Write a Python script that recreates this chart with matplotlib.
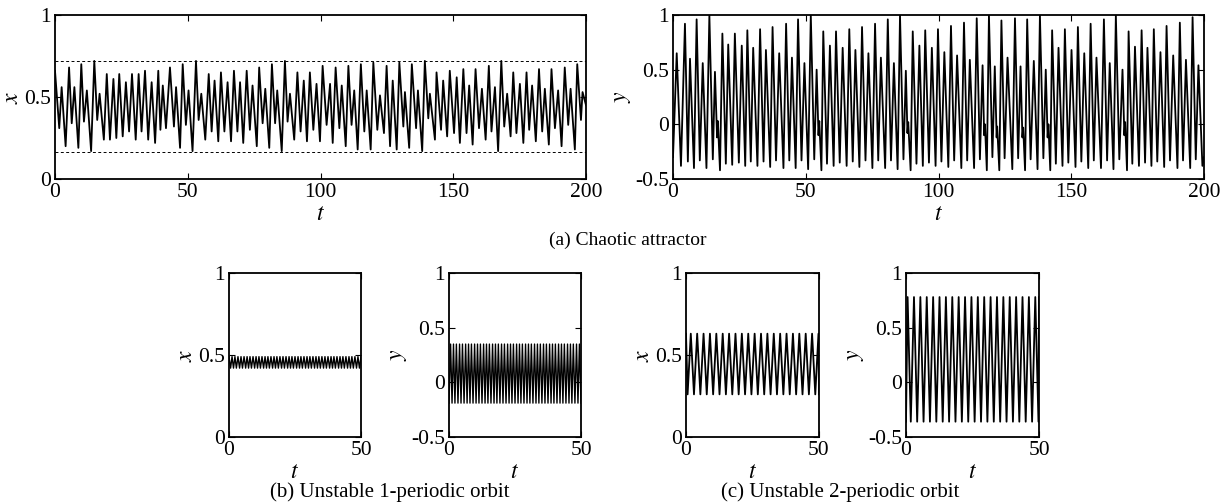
import matplotlib
matplotlib.use("Agg")
import matplotlib.pyplot as plt

plt.rcParams["font.family"] = "Liberation Serif"
plt.rcParams["mathtext.fontset"] = "stix"

# ---- (a) chaotic attractor: local extrema ----
xa_t = [0.0, 1.6, 2.5, 4.0, 5.3, 6.3, 7.3, 8.8, 9.9, 10.9, 12.0, 13.6, 14.8, 15.9, 16.8,
        18.4, 19.5, 20.7, 22.0, 23.1, 24.2, 25.5, 26.7, 27.9, 29.0, 30.4, 31.5, 32.6, 33.9,
        35.1, 36.4, 37.7, 38.9, 39.7, 40.6, 41.8, 43.3, 44.8, 45.6, 47.1, 48.1, 49.3, 50.3,
        51.8, 53.1, 54.1, 55.1, 56.6, 57.9, 59.0, 60.1, 61.5, 62.5, 63.8, 65.0, 66.3, 67.4,
        68.7, 69.7, 70.9, 72.2, 73.4, 74.4, 76.0, 76.9, 78.2, 79.2, 80.7, 81.7, 82.9, 83.7,
        85.4, 86.6, 87.6, 88.5, 90.1, 91.3, 92.5, 93.7, 94.9, 96.0, 97.3, 98.5, 99.8, 100.8,
        102.3, 103.6, 104.6, 105.7, 107.1, 108.0, 109.5, 110.5, 111.7, 112.7, 114.0, 115.2,
        116.5, 117.4, 118.9, 119.9, 121.4, 122.4, 123.9, 124.9, 126.2, 127.2, 128.7, 129.7,
        131.2, 131.8, 133.4, 134.4, 136.0, 136.7, 138.3, 139.3, 140.6, 141.2, 143.1, 143.7,
        145.4, 146.2, 147.7, 148.7, 150.3, 151.3, 152.5, 153.8, 155.0, 156.0, 157.3, 158.4,
        159.7, 160.8, 162.2, 163.4, 164.4, 165.7, 166.9, 168.1, 169.2, 170.3, 171.6, 172.6,
        173.8, 175.1, 176.4, 177.6, 178.6, 179.7, 181.1, 182.3, 183.5, 184.5, 186.0, 187.0,
        188.3, 189.5, 190.8, 192.0, 193.3, 194.2, 195.8, 196.7, 198.1, 198.7, 200.0]
xa_v = [0.66, 0.31, 0.56, 0.20, 0.68, 0.34, 0.56, 0.19, 0.70, 0.35, 0.54, 0.17, 0.72, 0.36, 0.52,
        0.24, 0.64, 0.24, 0.61, 0.25, 0.64, 0.26, 0.59, 0.29, 0.64, 0.24, 0.64, 0.29, 0.66,
        0.24, 0.59, 0.22, 0.66, 0.30, 0.57, 0.31, 0.68, 0.32, 0.56, 0.19, 0.70, 0.33, 0.54,
        0.17, 0.72, 0.36, 0.52, 0.24, 0.64, 0.29, 0.60, 0.23, 0.65, 0.29, 0.59, 0.23, 0.66,
        0.29, 0.59, 0.22, 0.66, 0.30, 0.57, 0.20, 0.68, 0.34, 0.55, 0.19, 0.70, 0.34, 0.54,
        0.17, 0.72, 0.35, 0.52, 0.24, 0.65, 0.29, 0.60, 0.23, 0.65, 0.30, 0.58, 0.23, 0.69,
        0.33, 0.58, 0.22, 0.68, 0.31, 0.57, 0.20, 0.69, 0.33, 0.54, 0.18, 0.70,
        0.29, 0.54, 0.18, 0.71, 0.30, 0.51, 0.28, 0.69, 0.20, 0.60, 0.18, 0.71,
        0.32, 0.53, 0.19, 0.70, 0.31, 0.54, 0.17, 0.72, 0.37, 0.52, 0.24, 0.65,
        0.30, 0.60, 0.26, 0.66, 0.28, 0.62, 0.22, 0.67, 0.28, 0.57, 0.21, 0.67,
        0.31, 0.55, 0.24, 0.69, 0.29, 0.56, 0.17, 0.72, 0.32, 0.52, 0.26, 0.65,
        0.28, 0.58, 0.22, 0.65, 0.30, 0.57, 0.23, 0.67, 0.29, 0.55, 0.21, 0.67,
        0.31, 0.54, 0.20, 0.68, 0.33, 0.55, 0.18, 0.70, 0.36, 0.53, 0.45]
xa_bounds = [0.72, 0.165]

ya_t = [0.0, 1.4, 3.0, 4.5, 5.6, 6.4, 7.9, 8.9, 10.1, 11.2, 12.6, 13.7, 15.0, 15.8, 16.6, 16.9,
        17.7, 18.6, 19.9, 20.8, 22.3, 23.3, 24.8, 25.9, 27.2, 28.0, 29.3, 30.2, 31.8, 32.8,
        34.1, 35.0, 36.6, 37.5, 38.8, 40.0, 41.6, 42.6, 43.8, 44.8, 46.2, 47.1, 48.4, 49.5,
        50.9, 51.9, 53.2, 54.1, 54.8, 55.1, 55.9, 56.6, 58.0, 59.1, 60.5, 61.4, 62.8, 63.9,
        65.4, 66.4, 67.7, 68.7, 70.2, 71.2, 72.5, 73.6, 75.1, 76.1, 77.3, 78.3, 79.9, 80.9,
        82.1, 83.2, 84.6, 85.5, 86.8, 87.7, 88.3, 88.6, 89.5, 90.3, 91.7, 92.8, 94.1, 95.0,
        96.4, 97.5, 98.9, 99.8, 101.1, 102.2, 103.7, 104.7, 105.9, 107.0, 108.6, 109.6,
        110.8, 111.8, 113.4, 114.4, 115.6, 116.6, 117.2, 117.5, 118.2, 119.0, 120.3, 121.2,
        121.9, 122.1, 122.9, 123.7, 124.9, 126.0, 127.8, 128.8, 130.0, 130.9, 131.6, 131.9,
        132.6, 133.4, 134.7, 135.9, 137.3, 138.2, 139.5, 140.4, 141.1, 141.4, 142.1, 142.8,
        144.2, 145.2, 146.7, 147.6, 148.9, 150.1, 151.6, 152.5, 153.8, 154.9, 156.4, 157.3,
        158.5, 159.5, 161.2, 162.3, 163.5, 164.5, 165.9, 166.8, 168.1, 169.3, 170.0, 170.3,
        171.0, 171.6, 173.0, 174.0, 175.5, 176.5, 177.8, 178.7, 180.2, 181.1, 182.4, 183.6,
        185.0, 185.9, 187.2, 188.4, 190.0, 190.9, 192.1, 193.2, 194.8, 195.7, 196.9, 197.9,
        199.4, 200.0]
ya_v = [-0.30, 0.65, -0.38, 0.92, -0.34, 0.60, -0.40, 0.96, -0.33, 0.56, -0.40, 1.00, -0.32, 0.48,
        -0.12, 0.03, -0.42, 0.83, -0.36, 0.73, -0.37, 0.83, -0.35, 0.72, -0.38, 0.86, -0.34,
        0.70, -0.38, 0.87, -0.34, 0.68, -0.39, 0.89, -0.33, 0.65, -0.40, 0.92, -0.33, 0.61,
        -0.40, 0.96, -0.33, 0.56, -0.41, 1.00, -0.32, 0.50, -0.10, 0.03, -0.42, 0.85, -0.36,
        0.72, -0.38, 0.85, -0.35, 0.70, -0.38, 0.87, -0.34, 0.68, -0.39, 0.89, -0.33, 0.65,
        -0.40, 0.92, -0.33, 0.61, -0.40, 0.96, -0.33, 0.56, -0.41, 1.00, -0.32, 0.49, -0.08,
        0.02, -0.42, 0.85, -0.36, 0.72, -0.38, 0.86, -0.35, 0.70, -0.38, 0.87, -0.34, 0.66,
        -0.39, 0.90, -0.33, 0.63, -0.40, 0.93, -0.33, 0.59, -0.40, 0.97, -0.32, 0.54, -0.10,
        0.00, -0.42, 1.00, -0.30, 0.53, -0.12, -0.02, -0.42, 0.95, -0.31, 0.61, -0.41, 0.97,
        -0.31, 0.53, -0.12, -0.03, -0.42, 0.96, -0.32, 0.58, -0.41, 1.00, -0.31, 0.50, -0.12,
        0.00, -0.42, 0.86, -0.36, 0.70, -0.38, 0.87, -0.35, 0.68, -0.39, 0.89, -0.34, 0.65,
        -0.40, 0.92, -0.33, 0.61, -0.40, 0.96, -0.33, 0.56, -0.41, 1.00, -0.32, 0.50, -0.10,
        0.02, -0.42, 0.85, -0.36, 0.71, -0.38, 0.86, -0.35, 0.70, -0.38, 0.87, -0.34, 0.66,
        -0.39, 0.90, -0.33, 0.63, -0.40, 0.93, -0.33, 0.59, -0.40, 0.98, -0.32, 0.54,
        -0.38, -0.30]

# ---- (b) unstable 1-periodic orbit ----
b_t = [0.0, 0.6, 1.15, 1.7, 2.25, 2.8, 3.4, 4.0, 4.55, 5.1, 5.7, 6.3, 6.85, 7.4, 7.95, 8.5,
       9.1, 9.7, 10.25, 10.8, 11.35, 11.9, 12.5, 13.1, 13.65, 14.2, 14.75, 15.3, 15.9, 16.5,
       17.05, 17.6, 18.15, 18.7, 19.3, 19.9, 20.45, 21.0, 21.6, 22.2, 22.75, 23.3, 23.85,
       24.4, 25.0, 25.6, 26.15, 26.7, 27.25, 27.8, 28.4, 29.0, 29.55, 30.1, 30.65, 31.2,
       31.8, 32.4, 32.95, 33.5, 34.05, 34.6, 35.2, 35.8, 36.35, 36.9, 37.5, 38.1, 38.65,
       39.2, 39.75, 40.3, 40.9, 41.5, 42.05, 42.6, 43.15, 43.7, 44.3, 44.9, 45.45, 46.0,
       46.55, 47.1, 47.7, 48.3, 48.85, 49.4, 50.0]
b_x_levels = [0.42, 0.49]
b_y_levels = [-0.19, 0.35]

# ---- (c) unstable 2-periodic orbit ----
c_t = [0.0, 0.6, 1.8, 3.0, 4.2, 5.4, 6.6, 7.8, 9.0, 10.2, 11.4, 12.6, 13.8, 15.0, 16.2, 17.4,
       18.6, 19.8, 21.0, 22.2, 23.4, 24.6, 25.8, 27.0, 28.2, 29.4, 30.6, 31.8, 33.0, 34.2,
       35.4, 36.6, 37.8, 39.0, 40.2, 41.4, 42.6, 43.8, 45.0, 46.2, 47.4, 48.6, 49.8, 50.0]
c_x_levels = [0.26, 0.63]
c_y_levels = [-0.36, 0.78]


def alternate(levels, n, start=0):
    return [levels[(i + start) % 2] for i in range(n)]


def style(ax, xmax, ylo, yticks, ylabels, xticks, ylab):
    ax.set_xlim(0, xmax)
    ax.set_ylim(ylo, 1)
    ax.set_xticks(xticks)
    ax.set_xticklabels([str(v) for v in xticks])
    ax.set_yticks(yticks)
    ax.set_yticklabels(ylabels)
    ax.tick_params(direction="in", top=True, right=True, length=4, width=0.8,
                   labelsize=15.5, pad=3)
    for s in ax.spines.values():
        s.set_linewidth(1.3)
    ax.set_xlabel("$t$", fontsize=17, labelpad=1)
    ax.set_ylabel(ylab, fontsize=17, labelpad=1)


fig = plt.figure(figsize=(12.32, 5.04), dpi=100)
W, H = 1232.0, 504.0


def add_ax(left, top, width, height):
    return fig.add_axes([left / W, 1 - (top + height) / H, width / W, height / H])


lw = 1.3
ax1 = add_ax(55, 15, 531, 164)
ax1.plot(xa_t, xa_v, color="k", lw=lw)
for b in xa_bounds:
    ax1.axhline(b, color="k", lw=0.7, ls=(0, (3, 2.5)))
style(ax1, 200, 0, [0, 0.5, 1], ["0", "0.5", "1"], [0, 50, 100, 150, 200], "$x$")

ax2 = add_ax(673, 15, 531, 164)
ax2.plot(ya_t, ya_v, color="k", lw=lw)
style(ax2, 200, -0.5, [-0.5, 0, 0.5, 1], ["-0.5", "0", "0.5", "1"], [0, 50, 100, 150, 200], "$y$")

ax3 = add_ax(229, 273, 132, 164)
ax3.plot(b_t, alternate(b_x_levels, len(b_t), 1), color="k", lw=1.0)
style(ax3, 50, 0, [0, 0.5, 1], ["0", "0.5", "1"], [0, 50], "$x$")

ax4 = add_ax(449, 273, 132, 164)
ax4.plot(b_t, alternate(b_y_levels, len(b_t)), color="k", lw=1.0)
style(ax4, 50, -0.5, [-0.5, 0, 0.5, 1], ["-0.5", "0", "0.5", "1"], [0, 50], "$y$")

ax5 = add_ax(686, 273, 133, 164)
ax5.plot(c_t, alternate(c_x_levels, len(c_t), 1), color="k", lw=lw)
style(ax5, 50, 0, [0, 0.5, 1], ["0", "0.5", "1"], [0, 50], "$x$")

ax6 = add_ax(906, 273, 133, 164)
ax6.plot(c_t, alternate(c_y_levels, len(c_t)), color="k", lw=lw)
style(ax6, 50, -0.5, [-0.5, 0, 0.5, 1], ["-0.5", "0", "0.5", "1"], [0, 50], "$y$")

fig.text(628 / W, 1 - 240 / H, "(a) Chaotic attractor", ha="center", va="center", fontsize=14)
fig.text(390 / W, 1 - 492 / H, "(b) Unstable 1-periodic orbit", ha="center", va="center", fontsize=15)
fig.text(840 / W, 1 - 492 / H, "(c) Unstable 2-periodic orbit", ha="center", va="center", fontsize=15)

fig.savefig("out.png", dpi=100)
